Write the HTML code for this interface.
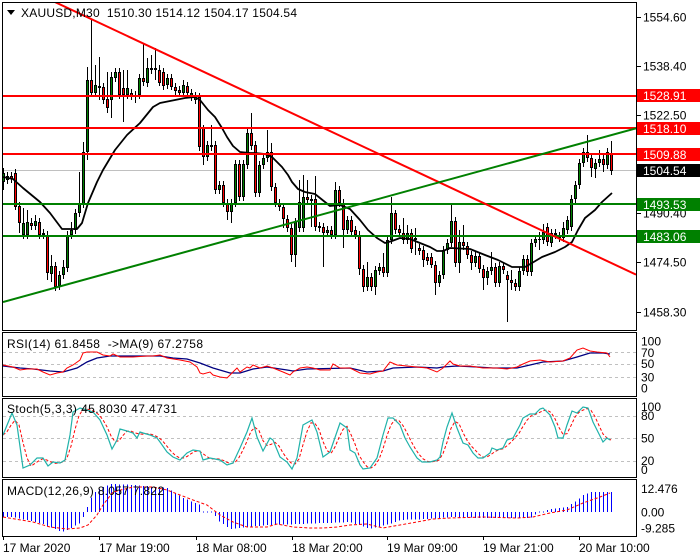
<!DOCTYPE html>
<html><head><meta charset="utf-8"><style>
html,body{margin:0;padding:0;background:#fff;width:700px;height:560px;overflow:hidden}
svg{display:block}
text{font-family:"Liberation Sans",Arial,sans-serif;font-size:12px;fill:#000;white-space:pre}
</style></head><body>
<svg id="s" width="700" height="560" viewBox="0 0 700 560" xmlns="http://www.w3.org/2000/svg">
<defs>
<clipPath id="cm"><rect x="3" y="3" width="633" height="327"/></clipPath>
<clipPath id="cr"><rect x="3" y="333" width="633" height="63"/></clipPath>
<clipPath id="cs"><rect x="3" y="399" width="633" height="78"/></clipPath>
<clipPath id="cd"><rect x="3" y="480" width="633" height="56"/></clipPath>
</defs>
<rect width="700" height="560" fill="#fff"/>

<!-- main panel content -->
<g clip-path="url(#cm)">
  <line x1="3" y1="170.5" x2="636" y2="170.5" stroke="#c0c0c0" stroke-width="1"/>
  <g id="candles" shape-rendering="crispEdges"></g>
  <polyline id="ma" fill="none" stroke="#000" stroke-width="1.8" stroke-linejoin="round"/>
  <g stroke-width="2" shape-rendering="crispEdges">
    <line x1="3" y1="96" x2="636" y2="96" stroke="#ff0000"/>
    <line x1="3" y1="128" x2="636" y2="128" stroke="#ff0000"/>
    <line x1="3" y1="154" x2="636" y2="154" stroke="#ff0000"/>
    <line x1="3" y1="204" x2="636" y2="204" stroke="#008000"/>
    <line x1="3" y1="236" x2="636" y2="236" stroke="#008000"/>
  </g>
  <line x1="50.6" y1="0" x2="636" y2="274.6" stroke="#ff0000" stroke-width="2"/>
  <line x1="3" y1="302" x2="636" y2="128.3" stroke="#008000" stroke-width="2"/>
</g>

<!-- RSI -->
<g clip-path="url(#cr)">
  <g stroke="#c0c0c0" stroke-dasharray="3,3" stroke-width="1">
    <line x1="3" y1="352.5" x2="636" y2="352.5"/>
    <line x1="3" y1="364.5" x2="636" y2="364.5"/>
    <line x1="3" y1="377.5" x2="636" y2="377.5"/>
  </g>
  <polyline id="rsiMa" fill="none" stroke="#000080" stroke-width="1.3"/>
  <polyline id="rsi" fill="none" stroke="#ff0000" stroke-width="1"/>
</g>

<!-- Stoch -->
<g clip-path="url(#cs)">
  <g stroke="#c0c0c0" stroke-dasharray="3,3" stroke-width="1">
    <line x1="3" y1="416.5" x2="636" y2="416.5"/>
    <line x1="3" y1="438.5" x2="636" y2="438.5"/>
    <line x1="3" y1="461.5" x2="636" y2="461.5"/>
  </g>
  <polyline id="stS" fill="none" stroke="#ff0000" stroke-width="1" stroke-dasharray="3,2"/>
  <polyline id="stM" fill="none" stroke="#20b2aa" stroke-width="1.2"/>
</g>

<!-- MACD -->
<g clip-path="url(#cd)">
  <g id="hist" shape-rendering="crispEdges"></g>
  <polyline id="mS" fill="none" stroke="#ff0000" stroke-width="1" stroke-dasharray="3,2"/>
</g>

<!-- panel borders -->
<g fill="none" stroke="#000" stroke-width="1" shape-rendering="crispEdges">
  <rect x="2.5" y="2.5" width="634" height="328"/>
  <rect x="2.5" y="332.5" width="634" height="64"/>
  <rect x="2.5" y="398.5" width="634" height="79"/>
  <rect x="2.5" y="479.5" width="634" height="57"/>
</g>

<!-- right axis ticks -->
<g stroke="#000" stroke-width="1" shape-rendering="crispEdges">
  <line x1="637" y1="17.5" x2="641" y2="17.5"/>
  <line x1="637" y1="66.5" x2="641" y2="66.5"/>
  <line x1="637" y1="115.5" x2="641" y2="115.5"/>
  <line x1="637" y1="213.5" x2="641" y2="213.5"/>
  <line x1="637" y1="262.5" x2="641" y2="262.5"/>
  <line x1="637" y1="312.5" x2="641" y2="312.5"/>
  <line x1="3.5" y1="537" x2="3.5" y2="540"/>
  <line x1="99.5" y1="537" x2="99.5" y2="540"/>
  <line x1="196.5" y1="537" x2="196.5" y2="540"/>
  <line x1="292.5" y1="537" x2="292.5" y2="540"/>
  <line x1="387.5" y1="537" x2="387.5" y2="540"/>
  <line x1="483.5" y1="537" x2="483.5" y2="540"/>
  <line x1="579.5" y1="537" x2="579.5" y2="540"/>
</g>

<!-- main price labels -->
<text x="643" y="21.5">1554.60</text>
<text x="643" y="70.5">1538.40</text>
<text x="643" y="119.5">1522.50</text>
<text x="643" y="217.5">1490.40</text>
<text x="643" y="266.5">1474.50</text>
<text x="643" y="316.5">1458.30</text>

<!-- level boxes -->
<rect x="637" y="89" width="63" height="13" fill="#ff0000"/>
<text x="643" y="100" style="fill:#fff">1528.91</text>
<rect x="637" y="122" width="63" height="13" fill="#ff0000"/>
<text x="643" y="133" style="fill:#fff">1518.10</text>
<rect x="637" y="148" width="63" height="13" fill="#ff0000"/>
<text x="643" y="159" style="fill:#fff">1509.88</text>
<rect x="637" y="164" width="63" height="13" fill="#000"/>
<text x="643" y="175" style="fill:#fff">1504.54</text>
<rect x="637" y="198" width="63" height="13" fill="#008000"/>
<text x="643" y="209" style="fill:#fff">1493.53</text>
<rect x="637" y="230" width="63" height="13" fill="#008000"/>
<text x="643" y="241" style="fill:#fff">1483.06</text>

<!-- header -->
<polygon points="7,10 15,10 11,15" fill="#000"/>
<text x="21" y="17" textLength="276" lengthAdjust="spacing">XAUUSD,M30  1510.30 1514.12 1504.17 1504.54</text>

<!-- indicator labels -->
<text x="7" y="348" textLength="196" lengthAdjust="spacing">RSI(14) 61.8458  -&gt;MA(9) 67.2758</text>
<text x="7" y="413" textLength="170" lengthAdjust="spacing">Stoch(5,3,3) 45.8030 47.4731</text>
<text x="7" y="495" textLength="157" lengthAdjust="spacing">MACD(12,26,9) 8.057 7.822</text>

<!-- indicator right labels -->
<text x="641" y="345.5">100</text>
<text x="641" y="357">70</text>
<text x="641" y="368">50</text>
<text x="641" y="381.5">30</text>
<text x="641" y="392.5">0</text>
<text x="641" y="411">100</text>
<text x="641" y="420">80</text>
<text x="641" y="442.5">50</text>
<text x="641" y="465">20</text>
<text x="641" y="474">0</text>
<text x="641" y="493">12.476</text>
<text x="641" y="516.5">0.00</text>
<text x="641" y="532.5">-9.285</text>

<!-- x labels -->
<text x="3" y="552">17 Mar 2020</text>
<text x="99" y="552">17 Mar 19:00</text>
<text x="196" y="552">18 Mar 08:00</text>
<text x="292" y="552">18 Mar 20:00</text>
<text x="387" y="552">19 Mar 09:00</text>
<text x="483" y="552">19 Mar 21:00</text>
<text x="579" y="552">20 Mar 10:00</text>
</svg>
<script>
(function(){
var NS="http://www.w3.org/2000/svg";
function el(p,t,a){var e=document.createElementNS(NS,t);for(var k in a)e.setAttribute(k,a[k]);p.appendChild(e);return e;}
function ptsStr(a){return a.map(function(p){return p[0]+","+p[1];}).join(" ");}
function interp(a,x){
  if(x<=a[0][0])return a[0][1];
  for(var i=1;i<a.length;i++){if(x<=a[i][0]){var t=(x-a[i-1][0])/(a[i][0]-a[i-1][0]);return a[i-1][1]+t*(a[i][1]-a[i-1][1]);}}
  return a[a.length-1][1];
}
// candles: [top, bottom, color, high, low] (0 = default)
var C=[
[173,182,'g',168,190],[176,180,'g',0,0],[176,179,'r',0,0],[173,207,'r',0,210],[206,223,'r',0,233],
[223,235,'g',208,0],[222,235,'g',210,0],[223,226,'r',218,0],[221,226,'g',215,0],[222,235,'r',0,0],
[233,235,'g',0,0],[235,273,'r',0,280],[266,274,'g',255,282],[266,287,'r',0,0],[275,286,'g',0,0],
[267,275,'g',260,0],[235,268,'g',0,0],[230,235,'g',222,0],[213,230,'g',0,0],[204,213,'g',172,0],
[152,204,'g',142,0],[80,152,'g',67,160],[80,93,'r',20,96],[85,93,'g',65,0],[86,88,'r',57,100],
[87,100,'r',0,0],[99,108,'r',72,113],[77,100,'g',72,118],[72,78,'g',0,0],[72,95,'r',0,0],
[88,95,'r',70,122],[88,95,'g',70,0],[93,96,'r',0,0],[95,97,'g',0,103],[78,95,'g',0,0],
[78,82,'r',43,0],[68,83,'g',58,0],[68,70,'r',55,0],[68,70,'g',48,80],[70,83,'r',65,86],
[72,86,'r',0,0],[78,85,'g',0,0],[78,87,'r',0,90],[87,91,'r',0,0],[90,93,'r',0,97],
[85,93,'g',80,0],[86,93,'r',0,0],[93,97,'g',0,0],[96,100,'g',0,0],[97,147,'r',0,0],
[128,157,'r',125,165],[145,157,'g',0,0],[145,147,'r',125,0],[145,190,'r',0,0],[185,190,'g',0,0],
[185,203,'r',0,0],[203,212,'r',0,220],[203,212,'g',0,223],[164,203,'g',0,0],[164,197,'r',0,0],
[164,197,'g',0,0],[133,165,'g',0,0],[133,146,'r',113,0],[145,193,'r',0,0],[165,193,'g',0,0],
[158,165,'g',0,0],[152,158,'g',130,0],[152,187,'r',143,0],[187,203,'r',0,0],[203,207,'r',0,0],
[207,219,'r',0,228],[219,228,'r',0,0],[228,255,'r',0,262],[222,255,'g',0,267],[202,228,'g',180,0],
[197,228,'g',175,0],[197,200,'r',180,0],[199,201,'r',0,227],[199,227,'r',176,0],[226,228,'r',0,0],
[227,233,'r',0,267],[230,233,'g',0,0],[230,235,'r',0,0],[190,235,'g',182,0],[190,203,'r',0,0],
[203,230,'r',0,248],[220,230,'g',0,0],[220,232,'r',0,0],[230,235,'r',0,0],[235,269,'r',0,275],
[269,287,'r',0,292],[277,287,'g',262,0],[277,287,'r',0,0],[270,287,'g',0,295],[267,271,'g',0,0],
[267,273,'r',253,0],[240,273,'g',0,0],[213,240,'g',197,0],[213,230,'r',210,0],[229,233,'r',0,0],
[233,240,'r',218,0],[233,240,'g',225,0],[233,249,'r',0,0],[238,240,'g',228,255],[248,251,'r',0,0],
[250,260,'r',0,267],[257,261,'r',0,0],[257,265,'r',0,268],[265,283,'r',0,295],[275,283,'g',0,0],
[250,275,'g',0,0],[243,250,'g',0,0],[221,243,'g',205,0],[221,263,'r',0,0],[242,263,'g',230,273],
[242,246,'r',225,0],[246,255,'r',0,0],[255,263,'r',0,270],[256,263,'g',0,0],[256,269,'r',0,0],
[269,278,'r',0,290],[271,278,'g',0,285],[267,271,'g',252,0],[267,283,'r',0,0],[266,283,'g',0,0],
[266,270,'r',262,0],[275,280,'r',0,322],[280,283,'r',270,290],[283,287,'r',0,0],[271,287,'g',0,0],
[259,271,'g',0,0],[259,272,'r',0,0],[243,272,'g',0,0],[239,243,'g',0,0],[239,240,'g',232,250],
[232,240,'g',224,0],[227,242,'r',223,0],[233,243,'g',0,0],[233,235,'g',0,0],[236,238,'r',0,0],
[228,238,'g',222,0],[220,230,'g',0,0],[199,227,'g',0,0],[185,199,'g',0,0],[163,185,'g',0,0],
[152,163,'g',0,0],[152,158,'r',135,0],[158,168,'r',0,177],[163,169,'g',0,178],[159,163,'g',150,0],
[159,165,'r',0,172],[152,165,'g',0,0],[153,171,'r',141,0]
];
var gC=document.getElementById('candles');
C.forEach(function(c,i){
  var x=3+4*i,top=c[0],bot=c[1];
  var hi=c[3]?c[3]:top-4, lo=c[4]?c[4]:bot+4;
  el(gC,'line',{x1:x+0.5,y1:hi,x2:x+0.5,y2:lo,stroke:'#000','stroke-width':1});
  var col=c[2]=='g'?'#008000':'#ff0000';
  if(bot-top<2){
    el(gC,'rect',{x:x-1,y:top,width:3,height:1,fill:'#000'});
  } else {
    el(gC,'rect',{x:x-0.5,y:top+0.5,width:2,height:bot-top-1,fill:col,stroke:'#000','stroke-width':1});
  }
});
// MA
var MA=[[3,177],[13,179],[23,188],[40,202],[50,213],[62,229],[77,229],[82,223],[88,203],[97,182],[103,170],[115,150],[127,135],[140,123],[153,107],[160,103],[175,100],[185,98],[195,97],[200,100],[208,110],[215,117],[222,128],[227,137],[233,146],[240,152],[250,153],[255,153],[265,154],[272,157],[282,167],[288,175],[292,182],[298,189],[305,192],[315,194],[320,198],[330,206],[340,205],[350,209],[360,220],[368,230],[377,238],[385,243],[392,241],[400,238],[410,239],[420,243],[430,247],[437,251],[443,251],[450,248],[470,249],[485,255],[498,260],[512,267],[525,267],[532,263],[542,257],[555,252],[565,247],[572,242],[578,230],[585,218],[595,210],[602,202],[612,193]];
document.getElementById('ma').setAttribute('points',ptsStr(MA));
// RSI
var RSI=[[3,365],[13,367],[20,370],[27,369],[37,369],[43,372],[50,375],[57,373],[63,372],[67,368],[73,365],[80,360],[83,353],[87,352],[97,352],[103,355],[110,356],[113,354],[120,357],[133,357],[147,356],[153,356],[160,355],[167,358],[180,360],[190,362],[197,367],[200,373],[203,374],[210,372],[213,375],[220,377],[227,378],[230,375],[233,372],[237,368],[240,372],[247,367],[250,368],[253,365],[260,368],[267,366],[273,368],[283,372],[290,375],[293,372],[300,368],[307,367],[313,368],[320,370],[330,370],[333,364],[340,368],[350,368],[360,373],[370,374],[377,372],[383,371],[390,362],[397,365],[407,366],[417,367],[427,368],[437,372],[443,368],[450,361],[453,364],[460,366],[470,366],[483,368],[497,368],[507,369],[517,367],[523,364],[530,361],[540,360],[550,362],[563,361],[570,358],[577,350],[583,348],[590,351],[597,352],[607,353],[610,357]];
var RSIMA=[[3,366],[20,368],[33,369],[50,371],[63,372],[77,368],[87,362],[97,358],[110,356],[120,356],[160,356],[173,358],[187,359],[200,363],[213,368],[230,373],[240,373],[253,369],[267,367],[287,370],[293,371],[307,369],[350,368],[367,372],[383,371],[393,368],[417,367],[437,368],[443,367],[457,366],[477,367],[493,368],[517,368],[530,365],[543,362],[563,361],[577,357],[590,353],[603,353],[610,354]];
document.getElementById('rsi').setAttribute('points',ptsStr(RSI));
document.getElementById('rsiMa').setAttribute('points',ptsStr(RSIMA));
// Stoch
var ST=[[3,435],[12,413],[17,425],[23,468],[30,465],[37,458],[43,458],[48,466],[53,462],[60,463],[65,460],[70,435],[73,412],[80,408],[87,410],[93,412],[100,420],[107,435],[112,449],[117,440],[120,429],[127,431],[133,433],[137,438],[140,432],[143,433],[150,435],[157,438],[160,442],[167,452],[173,457],[180,460],[187,453],[193,450],[200,451],[203,460],[210,458],[220,460],[227,465],[233,463],[240,448],[247,432],[252,418],[257,437],[263,451],[270,438],[273,440],[280,457],[287,462],[292,469],[297,458],[303,425],[312,420],[317,432],[323,457],[330,452],[340,423],[347,428],[350,450],[355,453],[360,465],[363,469],[370,468],[377,458],[383,435],[388,418],[393,418],[400,425],[405,438],[410,447],[417,458],[422,462],[430,462],[437,460],[440,457],[443,442],[447,427],[452,413],[457,428],[463,443],[468,445],[473,453],[478,458],[483,458],[490,453],[492,448],[497,450],[503,448],[507,440],[513,438],[520,425],[523,418],[530,414],[535,414],[540,409],[543,408],[550,415],[555,427],[558,438],[563,438],[567,425],[572,411],[577,413],[583,407],[588,408],[593,422],[598,432],[603,442],[607,438],[610,440]];
document.getElementById('stM').setAttribute('points',ptsStr(ST));
var sv=[];for(var i=0;i<153;i++){sv.push(interp(ST,3+4*i));}
var sig=[];for(var i=0;i<153;i++){var a=sv[i],b=sv[Math.max(0,i-1)],c=sv[Math.max(0,i-2)];sig.push([3+4*i,((a+b+c)/3).toFixed(1)]);}
document.getElementById('stS').setAttribute('points',ptsStr(sig));
// MACD
var H=[[3,517],[13,517],[17,518],[40,523],[62,532],[67,530],[82,522],[84,512],[87,507],[92,495],[97,490],[110,484],[133,485],[167,488],[183,498],[200,505],[203,512],[213,512],[217,520],[230,529],[247,527],[267,525],[300,524],[350,522],[370,529],[393,523],[400,520],[427,519],[450,517],[483,518],[530,518],[537,513],[543,512],[547,510],[557,508],[567,507],[580,498],[583,495],[590,492],[613,492]];
var gH=document.getElementById('hist');
for(var i=0;i<153;i++){var x=3+4*i;var y=interp(H,x);var y1=Math.min(512,y),y2=Math.max(512,y);if(y2-y1<1){y1=511.5;y2=512.5;}
  el(gH,'rect',{x:x,y:y1,width:1,height:y2-y1,fill:'#0000ff'});}
var MS=[[3,517],[33,522],[50,527],[67,529],[80,528],[88,525],[97,515],[103,505],[113,492],[133,487],[153,487],[167,490],[180,495],[193,500],[207,505],[220,515],[233,522],[247,527],[267,527],[277,524],[293,527],[310,528],[323,528],[337,527],[350,525],[367,524],[383,528],[400,525],[417,522],[433,519],[450,518],[483,517],[517,518],[533,517],[550,513],[567,510],[583,503],[600,497],[610,493]];
document.getElementById('mS').setAttribute('points',ptsStr(MS));
})();
</script>
</body></html>
